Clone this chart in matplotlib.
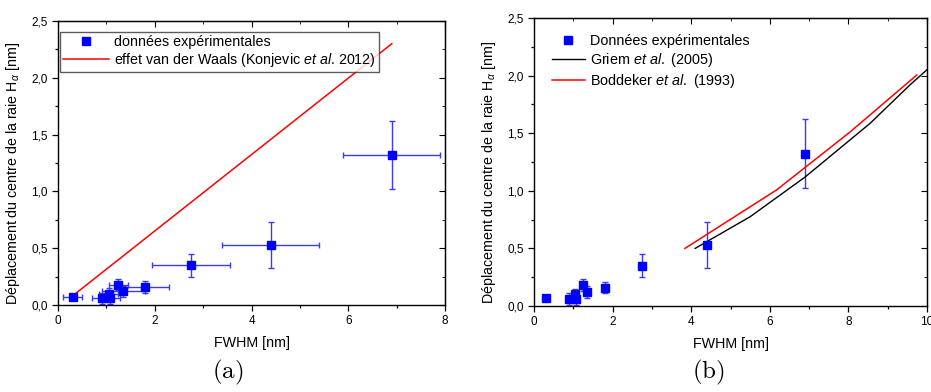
import numpy as np
import matplotlib
matplotlib.use("Agg")
import matplotlib.pyplot as plt
from matplotlib.ticker import MultipleLocator, FuncFormatter

plt.rcParams["font.family"] = ["Liberation Sans", "DejaVu Sans"]
plt.rcParams["mathtext.fontset"] = "custom"
plt.rcParams["mathtext.rm"] = "Liberation Sans"
plt.rcParams["mathtext.it"] = "Liberation Sans:italic"

#=====================#
fwhm = [0.3, 0.9, 1.05, 1.08, 1.25, 1.35, 1.8, 2.75, 4.4, 6.9]
shift = [0.07, 0.06, 0.10, 0.06, 0.18, 0.12, 0.16, 0.35, 0.53, 1.32]
shift_err = [0.01, 0.05, 0.05, 0.05, 0.05, 0.05, 0.05, 0.10, 0.20, 0.30]
fwhm_err = [0.2, 0.2, 0.2, 0.2, 0.2, 0.45, 0.5, 0.8, 1.0, 1.0]

vdw_x = [0.3, 6.9]
vdw_y = [0.08, 2.3]

griem_x = [4.10, 5.50, 6.90, 8.55, 9.57, 10.03]
griem_y = [0.50, 0.775, 1.12, 1.585, 1.92, 2.06]

bodd_x = [3.84, 6.17, 8.04, 9.74]
bodd_y = [0.50, 1.007, 1.51, 2.005]
#=====================#

blue = "#0000ff"
ebcol = "#3a3aff"
ylab = r"Déplacement du centre de la raie H$_\alpha$ [nm]"
comma = FuncFormatter(lambda v, p: ("%.1f" % v).replace(".", ","))

fig = plt.figure(figsize=(9.31, 3.92), dpi=100)
ax1 = fig.add_axes([0.0623, 0.2219, 0.4157, 0.7245])
ax2 = fig.add_axes([0.5736, 0.2194, 0.4221, 0.7347])


def style(ax, xmax):
    ax.set_xlim(0, xmax)
    ax.set_ylim(0, 2.5)
    ax.xaxis.set_major_locator(MultipleLocator(2))
    ax.xaxis.set_minor_locator(MultipleLocator(1))
    ax.yaxis.set_major_locator(MultipleLocator(0.5))
    ax.yaxis.set_minor_locator(MultipleLocator(0.25))
    ax.yaxis.set_major_formatter(comma)
    ax.tick_params(which="both", direction="out", labelsize=8.5, width=0.9, top=False, right=False)
    ax.tick_params(which="major", length=4)
    ax.tick_params(which="minor", length=2.5)
    sec_x = ax.secondary_xaxis("top")
    sec_x.xaxis.set_major_locator(MultipleLocator(2))
    sec_x.xaxis.set_minor_locator(MultipleLocator(1))
    sec_x.tick_params(which="both", direction="in", labeltop=False)
    sec_x.tick_params(which="major", length=4)
    sec_x.tick_params(which="minor", length=2.5)
    sec_y = ax.secondary_yaxis("right")
    sec_y.yaxis.set_major_locator(MultipleLocator(0.5))
    sec_y.yaxis.set_minor_locator(MultipleLocator(0.25))
    sec_y.tick_params(which="both", direction="in", labelright=False)
    sec_y.tick_params(which="major", length=4)
    sec_y.tick_params(which="minor", length=2.5)
    for s in ax.spines.values():
        s.set_linewidth(1.0)
    ax.set_xlabel("FWHM [nm]", fontsize=10.3, labelpad=6)
    ax.set_ylabel(ylab, fontsize=10.3, labelpad=4)


# (a)
style(ax1, 8)
ax1.yaxis.set_label_coords(-0.093, 0.465)
ax1.errorbar(fwhm, shift, xerr=fwhm_err, yerr=shift_err, fmt="none",
             ecolor=ebcol, elinewidth=1, capsize=2.5, capthick=1, zorder=2)
ax1.plot(fwhm, shift, "s", color=blue, ms=5.8, label="données expérimentales", zorder=3)
ax1.plot(vdw_x, vdw_y, color="red", lw=1.1,
         label=r"effet van der Waals (Konjevic $\mathit{et\ al}$. 2012)", zorder=2)
leg1 = ax1.legend(loc="upper left", bbox_to_anchor=(0.005, 0.96), fontsize=10.3,
                  frameon=True, fancybox=False, edgecolor="#333333",
                  handlelength=3.2, borderpad=0.2, labelspacing=0.15,
                  handletextpad=0.4, borderaxespad=0)
leg1.get_frame().set_linewidth(1.0)

# (b)
style(ax2, 10)
ax2.yaxis.set_label_coords(-0.092, 0.464)
ax2.errorbar(fwhm, shift, yerr=shift_err, fmt="none",
             ecolor=ebcol, elinewidth=1, capsize=2.5, capthick=1, zorder=2)
ax2.plot(fwhm, shift, "s", color=blue, ms=5.8, label="Données expérimentales", zorder=3)
ax2.plot(griem_x, griem_y, color="black", lw=1.0, label=r"Griem $\mathit{et\ al.}$ (2005)", zorder=2)
ax2.plot(bodd_x, bodd_y, color="red", lw=1.1, label=r"Boddeker $\mathit{et\ al.}$ (1993)", zorder=2)
ax2.legend(loc="upper left", bbox_to_anchor=(0.03, 0.965), fontsize=10.4, frameon=False,
           handlelength=2.3, labelspacing=0.2, handletextpad=0.35, borderaxespad=0)

fig.text(228 / 931, 1 - 372 / 392, r"$\mathrm{(a)}$", math_fontfamily="cm",
         fontsize=18, ha="center", va="center")
fig.text(708 / 931, 1 - 372 / 392, r"$\mathrm{(b)}$", math_fontfamily="cm",
         fontsize=18, ha="center", va="center")

fig.savefig("out.png", dpi=100)
